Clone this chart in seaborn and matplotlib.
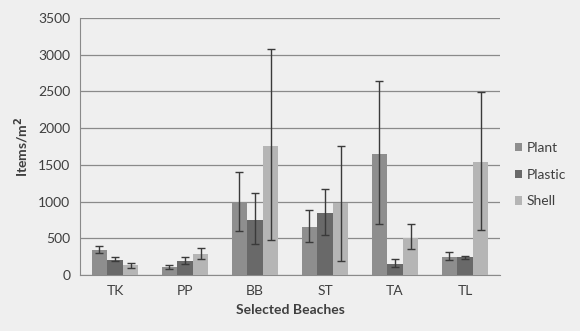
import matplotlib
matplotlib.use("Agg")
import matplotlib.pyplot as plt
import seaborn as sns
import pandas as pd
import numpy as np

beaches = ["TK", "PP", "BB", "ST", "TA", "TL"]
series = ["Plant", "Plastic", "Shell"]
plant = [340, 110, 990, 660, 1650, 250]
plastic = [210, 190, 750, 850, 150, 240]
shell = [130, 290, 1760, 980, 510, 1540]
plant_lo = [300, 80, 600, 450, 695, 200]
plant_hi = [390, 140, 1400, 880, 2640, 320]
plastic_lo = [190, 150, 420, 545, 113, 215]
plastic_hi = [240, 240, 1110, 1165, 215, 260]
shell_lo = [100, 220, 480, 190, 350, 610]
shell_hi = [170, 370, 3080, 1760, 695, 2490]
colors = ["#8e8e8e", "#696969", "#b5b5b5"]

sns.set_style("white")
plt.rcParams["font.family"] = ["Lato", "DejaVu Sans"]

rows = []
for name, vals, lo, hi in [("Plant", plant, plant_lo, plant_hi),
                           ("Plastic", plastic, plastic_lo, plastic_hi),
                           ("Shell", shell, shell_lo, shell_hi)]:
    for b, v, l, h in zip(beaches, vals, lo, hi):
        rows.append({"Beach": b, "Type": name, "Value": v, "Lo": l, "Hi": h})
df = pd.DataFrame(rows)

fig = plt.figure(figsize=(5.8, 3.31), dpi=100, facecolor="#efefef")
ax = fig.add_axes([80/580, 1 - 275/331, 420/580, 257/331])
ax.set_facecolor("#efefef")

sns.barplot(data=df, x="Beach", y="Value", hue="Type", order=beaches,
            hue_order=series, palette=colors, errorbar=None, width=0.68,
            gap=0.05, saturation=1, ax=ax, zorder=3, edgecolor="none")

# error bars from bar patch positions
for i, s in enumerate(series):
    cont = ax.containers[i]
    sub = df[df["Type"] == s].set_index("Beach").loc[beaches]
    xs = [p.get_x() + p.get_width() / 2 for p in cont.patches]
    v = sub["Value"].values
    yerr = np.vstack([v - sub["Lo"].values, sub["Hi"].values - v])
    ax.errorbar(xs, v, yerr=yerr, fmt="none", ecolor="#3a3a3a",
                elinewidth=1.0, capsize=3, capthick=1.0, zorder=4)

ax.set_ylim(0, 3500)
ax.set_yticks(range(0, 3501, 500))
ax.set_xlim(-0.5, 5.5)
ax.yaxis.grid(True, color="#8a8a8a", linewidth=0.9, zorder=0)
ax.set_axisbelow(True)
for sp in ["top", "right"]:
    ax.spines[sp].set_visible(False)
ax.spines["left"].set_color("#8a8a8a")
ax.spines["bottom"].set_color("#8a8a8a")

txt = "#3f3f3f"
ax.set_xticks(np.arange(-0.5, 6, 1), minor=True)
ax.tick_params(axis="x", which="major", length=0, labelsize=10, pad=7,
               labelcolor=txt)
ax.tick_params(axis="x", which="minor", length=4, color="#8a8a8a",
               direction="out")
ax.tick_params(axis="y", length=4, color="#8a8a8a", labelsize=10, pad=3,
               labelcolor=txt)

ax.set_xlabel("Selected Beaches", fontsize=10, fontweight="bold",
              color=txt, labelpad=5)
ax.set_ylabel("Items/m$^\\mathbf{2}$", fontsize=10, fontweight="bold",
              color=txt, labelpad=5)

leg = ax.legend(loc="center left", bbox_to_anchor=(1.005, 0.39),
                frameon=False, fontsize=10, handlelength=0.55,
                handleheight=0.55, handletextpad=0.3, labelspacing=1.05)
for t in leg.get_texts():
    t.set_color(txt)

fig.savefig("out.png", dpi=100, facecolor=fig.get_facecolor())
